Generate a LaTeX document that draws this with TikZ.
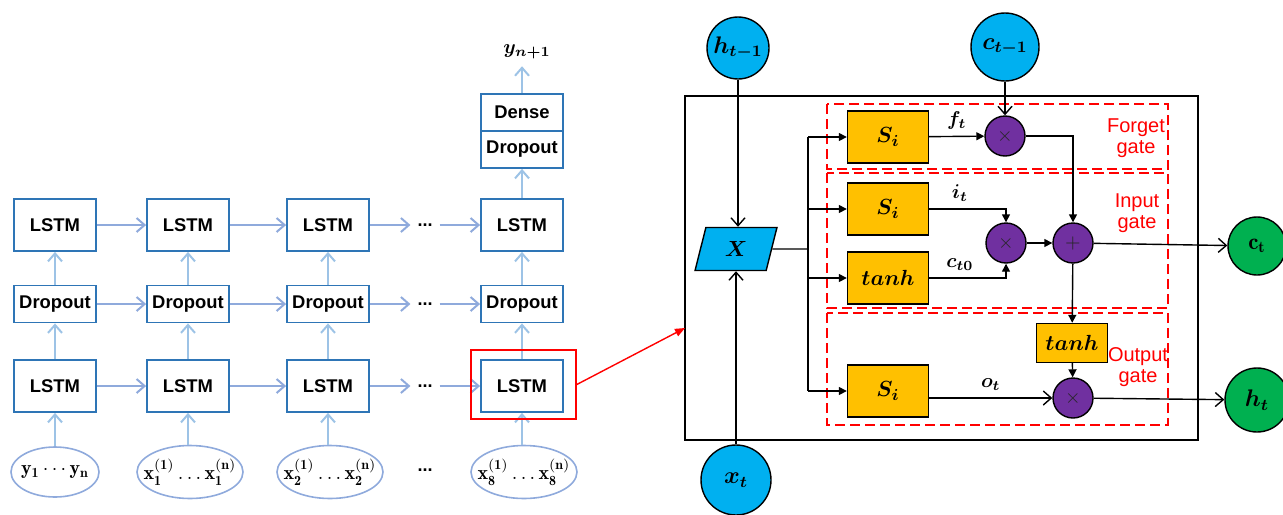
\documentclass[tikz,border=0pt]{standalone}
\usepackage{fontspec}
\setsansfont{Liberation Sans}
\usepackage{amsmath,bm}
\usetikzlibrary{arrows.meta, positioning, calc, shapes.geometric}
\definecolor{lblue}{RGB}{143,170,220}
\definecolor{vblue}{RGB}{157,195,230}
\definecolor{bbord}{RGB}{46,117,182}
\definecolor{cellcyan}{RGB}{0,176,240}
\definecolor{gateyel}{RGB}{255,192,0}
\definecolor{oppurp}{RGB}{112,48,160}
\definecolor{outgreen}{RGB}{0,176,80}
\definecolor{gatered}{RGB}{255,0,0}

\begin{document}
\begin{tikzpicture}[x=0.5pt, y=-0.5pt,
  netbox/.style={draw=bbord, line width=0.9pt, fill=white, minimum width=41pt, inner sep=0pt, font=\sffamily\bfseries\fontsize{9.2}{10}\selectfont},
  lstm/.style={netbox, minimum height=26pt},
  drop/.style={netbox, minimum height=18.5pt},
  inp/.style={ellipse, draw=lblue, line width=0.8pt, minimum width=53pt, minimum height=26.5pt, inner sep=0pt, font=\fontsize{10}{12}\selectfont},
  dotsn/.style={font=\sffamily\bfseries\fontsize{9}{10}\selectfont},
  flow/.style={lblue, line width=1pt, -{Straight Barb[length=4pt,width=7pt]}},
  upflow/.style={flow, vblue},
  circ/.style={circle, draw=black, line width=0.7pt, inner sep=0pt, font=\fontsize{11.5}{13}\selectfont},
  sig/.style={draw=black, line width=0.7pt, fill=gateyel, minimum width=40.5pt, minimum height=26pt, font=\fontsize{11}{13}\selectfont},
  op/.style={circle, draw=black, line width=0.7pt, fill=oppurp, minimum size=20pt, inner sep=0pt, text=black!85, font=\fontsize{10}{12}\selectfont},
  gatebox/.style={draw=gatered, line width=0.8pt, dash pattern=on 5pt off 2.5pt},
  glabel/.style={text=gatered, align=center, font=\sffamily\fontsize{10}{10.5}\selectfont},
  wire/.style={line width=0.7pt, -{Triangle[length=4pt,width=4pt]}},
  owire/.style={line width=0.7pt, -{Straight Barb[length=4pt,width=7pt]}}]
\useasboundingbox (0,0) rectangle (1283,514);

% stacked LSTM network
\foreach \c/\x in {1/55,2/188,3/328,4/522} {
  \node[lstm] (lo\c) at (\x,386) {LSTM};
  \node[drop] (dr\c) at (\x,304) {Dropout};
  \node[lstm] (hi\c) at (\x,225) {LSTM};
}
\node[inp, minimum width=44pt, minimum height=25pt] (in1) at (55,472) {\makebox[26pt]{$\mathbf{y_1\cdots y_n}$}};
\foreach \c/\x/\k in {2/190/1,3/330/2,4/524/8} {
  \node[inp] (in\c) at (\x,472) {\makebox[32pt]{$\mathbf{x_{\k}^{(1)}\ldots x_{\k}^{(n)}}$}};
}
\node[dotsn] (ind) at (425,470) {...};
\node[drop] (dp5) at (522,149.5) {Dropout};
\node[drop] (dense) at (522,112.5) {Dense};
\node (yout) at (527,52) {$\bm{y_{n+1}}$};

\foreach \r/\y in {lo/386,dr/304,hi/225} {
  \node[dotsn] (\r d) at (425,\y) {...};
  \draw[flow] (\r1) -- (\r2);
  \draw[flow] (\r2) -- (\r3);
  \draw[flow] (\r3) -- (\r d);
  \draw[flow] (\r d) -- (\r4);
}
\foreach \c in {1,...,4} {
  \draw[upflow] (lo\c.south |- in\c.north) -- (lo\c);
  \draw[upflow] (lo\c) -- (dr\c);
  \draw[upflow] (dr\c) -- (hi\c);
}
\draw[upflow] (hi4) -- (dp5);
\draw[upflow] (dense.north) -- (dense.north |- yout.south);

% zoomed cell
\node[draw=gatered, line width=0.8pt, minimum width=52.5pt, minimum height=34.5pt] (focus) at (523.5,384.5) {};
\node[draw, line width=0.7pt, minimum width=256.5pt, minimum height=172pt] (cell) at (941.5,268) {};
\coordinate (cellin) at (685,328);
\draw[gatered, line width=0.7pt, -{Triangle[length=5pt,width=4pt]}] (focus.east) -- (cellin);

\draw[gatebox] (827,104) rectangle (1168,169);
\draw[gatebox] (827,173) rectangle (1168,308);
\draw[gatebox] (827,313) rectangle (1168,425);
\node[glabel] (lforget) at (1136,138) {Forget\\gate};
\node[glabel] (linput) at (1137,213) {Input\\gate};
\node[glabel] (loutput) at (1138,367) {Output\\gate};

\node[circ, fill=cellcyan, minimum size=31pt] (hprev) at (738,48) {$\bm{h_{t-1}}$};
\node[circ, fill=cellcyan, minimum size=34pt] (cprev) at (1005,47) {$\bm{c_{t-1}}$};
\node[circ, fill=cellcyan, minimum size=35pt] (xt) at (736,480) {$\bm{x_t}$};
\node[circ, fill=outgreen, minimum size=29pt] (ct) at (1257,246) {$\mathbf{c_t}$};
\node[circ, fill=outgreen, minimum size=32pt] (ht) at (1257,400) {$\bm{h_t}$};
\node[trapezium, trapezium left angle=75, trapezium right angle=105, trapezium stretches=true,
  draw, line width=0.7pt, fill=cellcyan, minimum width=41pt, minimum height=21.5pt, inner sep=0pt,
  font=\fontsize{11}{13}\selectfont] (X) at (736,249) {$\bm{X}$};

\node[sig] (fS) at (888,137) {$\bm{S_i}$};
\node[sig] (iS) at (888,209) {$\bm{S_i}$};
\node[sig] (tS) at (888,278) {$\bm{tanh}$};
\node[sig] (oS) at (888,391) {$\bm{S_i}$};
\node[sig, minimum width=35.5pt, minimum height=19.5pt] (tO) at (1072,343) {$\bm{tanh}$};

\node[op] (fX) at (1005,136) {$\times$};
\node[op] (iX) at (1006,243) {$\times$};
\node[op] (plus) at (1073,243) {$+$};
\node[op] (oX) at (1073,398) {$\times$};

\coordinate (bus) at (808,249);
\draw[line width=0.7pt] (X.east) -- (bus);
\draw[line width=0.7pt] (bus |- fS) -- (bus |- oS);
\foreach \n in {fS,iS,tS,oS} { \draw[wire] (bus |- \n) -- (\n); }

\draw[owire] (hprev) -- (hprev |- X.north);
\draw[owire] (xt) -- (xt |- X.south);
\draw[owire] (cprev) -- (fX);
\draw[wire] (fS) -- node[above] {$\bm{f_t}$} (fX);
\draw[wire] (fX) -| (plus);
\draw[wire] (iS) -| node[above, pos=0.2] {$\bm{i_t}$} (iX);
\draw[wire] (tS) -| node[above, pos=0.2] {$\bm{c_{t0}}$} (iX);
\draw[wire] (iX) -- (plus);
\draw[owire] (plus) -- (ct);
\draw[wire] (plus) -- (tO);
\draw[wire] (tO) -- (oX);
\draw[owire] (oS.east |- oX) -- node[above] {$\bm{o_t}$} (oX);
\draw[owire] (oX) -- (ht);
\end{tikzpicture}
\end{document}
